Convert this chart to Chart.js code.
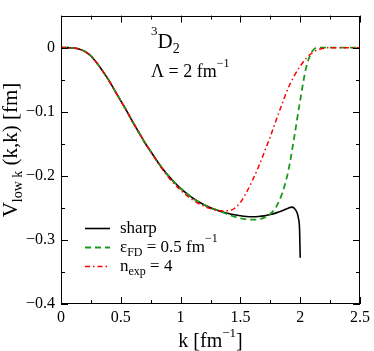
<!DOCTYPE html>
<html>
<head>
<meta charset="utf-8">
<script src="https://cdn.jsdelivr.net/npm/chart.js@4"></script>
<style>
  html, body { margin: 0; padding: 0; background: #fff; }
  #c { display: block; }
</style>
</head>
<body>
<canvas id="c" width="374" height="351"></canvas>
<script>
// k in fm^-1, V_low k(k,k) in fm
var kSharp = [0, 0.05, 0.1, 0.15, 0.2, 0.25, 0.3, 0.35, 0.4, 0.45, 0.5, 0.55, 0.6, 0.65, 0.7, 0.75, 0.8, 0.85, 0.9, 0.95, 1.0,
              1.05, 1.1, 1.15, 1.2, 1.25, 1.3, 1.35, 1.4, 1.45, 1.5, 1.55, 1.6, 1.65, 1.7, 1.75, 1.8, 1.85, 1.9, 1.93, 1.95,
              1.97, 1.985, 1.995, 2.0];
var vSharp = [0, 0, -0.0005, -0.002, -0.006, -0.013, -0.024, -0.037, -0.051, -0.067, -0.083, -0.099, -0.116, -0.132, -0.148,
              -0.162, -0.176, -0.189, -0.2005, -0.2105, -0.2195, -0.2275, -0.2345, -0.2405, -0.2455, -0.2497, -0.2533,
              -0.2563, -0.2588, -0.2608, -0.2623, -0.2634, -0.2638, -0.2635, -0.2625, -0.2605, -0.2578, -0.2545, -0.2505,
              -0.2488, -0.2505, -0.256, -0.266, -0.285, -0.328];

var kFD = [0, 0.05, 0.1, 0.15, 0.2, 0.25, 0.3, 0.35, 0.4, 0.45, 0.5, 0.55, 0.6, 0.65, 0.7, 0.75, 0.8, 0.85, 0.9, 0.95, 1.0,
           1.05, 1.1, 1.15, 1.2, 1.25, 1.3, 1.35, 1.4, 1.45, 1.5, 1.55, 1.6, 1.65, 1.7, 1.75, 1.8, 1.85, 1.9, 1.95,
           2.0, 2.05, 2.1, 2.15, 2.2, 2.3, 2.4, 2.5];
var vFD = [0, 0, -0.0005, -0.002, -0.006, -0.013, -0.024, -0.037, -0.051, -0.067, -0.083, -0.099, -0.116, -0.132, -0.148,
           -0.162, -0.176, -0.189, -0.2005, -0.2105, -0.2195, -0.2275, -0.2345, -0.2405, -0.2455, -0.2497, -0.2533,
           -0.2568, -0.2605, -0.2638, -0.2663, -0.2679, -0.2685, -0.2678, -0.2652, -0.2595, -0.248, -0.227, -0.193,
           -0.140, -0.082, -0.031, -0.006, 0, 0, 0, 0, 0];

var kExp = [0, 0.05, 0.1, 0.15, 0.2, 0.25, 0.3, 0.35, 0.4, 0.45, 0.5, 0.55, 0.6, 0.65, 0.7, 0.75, 0.8, 0.85, 0.9, 0.95, 1.0,
            1.05, 1.1, 1.15, 1.2, 1.25, 1.3, 1.35, 1.4, 1.45, 1.5, 1.55, 1.6, 1.65, 1.7, 1.75, 1.8, 1.85, 1.9, 1.95,
            2.0, 2.05, 2.1, 2.15, 2.2, 2.25, 2.3, 2.4, 2.5];
var vExp = [0, 0, -0.0005, -0.002, -0.006, -0.013, -0.024, -0.037, -0.051, -0.067, -0.083, -0.099, -0.116, -0.132, -0.148,
            -0.162, -0.1765, -0.1905, -0.2025, -0.213, -0.2225, -0.2305, -0.2375, -0.2432, -0.2478, -0.2512, -0.2535,
            -0.2547, -0.2545, -0.251, -0.2415, -0.226, -0.2075, -0.1865, -0.163, -0.139, -0.1125, -0.087, -0.063,
            -0.044, -0.029, -0.0165, -0.008, -0.003, -0.0008, 0, 0, 0, 0];

var xMin = 0, xMax = 2.5, xStep = 0.25;
var yMin = -0.4, yMax = 0.05, yStep = 0.05;

var SERIF = "'Liberation Serif', 'Times New Roman', serif";

function pts(ks, vs) {
	return ks.map(function(k, i) { return { x: k, y: vs[i] }; });
}

function fmt(v) {
	var s = String(Math.round(v * 100) / 100);
	return s.replace('-', '\u2212');
}

// draws a sequence of runs: [text, size, shift] where shift moves baseline up (+) or down (-)
function drawRuns(ctx, runs, x, y, align) {
	var total = 0;
	runs.forEach(function(r) {
		ctx.font = r[1] + 'px ' + SERIF;
		total += ctx.measureText(r[0]).width;
	});
	var cx = align === 'center' ? x - total / 2 : x;
	runs.forEach(function(r) {
		ctx.font = r[1] + 'px ' + SERIF;
		ctx.fillText(r[0], cx, y - (r[2] || 0));
		cx += ctx.measureText(r[0]).width;
	});
}

var framePlugin = {
	id: 'frame',
	afterDraw: function(chart) {
		var ctx = chart.ctx, a = chart.chartArea;
		var xs = chart.scales.x, ys = chart.scales.y;
		ctx.save();
		ctx.strokeStyle = '#000';
		ctx.lineWidth = 1;
		ctx.strokeRect(Math.round(a.left) + 0.5, Math.round(a.top) + 0.5,
			Math.round(a.right - a.left) - 1, Math.round(a.bottom - a.top) - 1);

		// inward ticks on all four sides
		ctx.beginPath();
		xs.ticks.forEach(function(t) {
			var px = Math.round(xs.getPixelForValue(t.value)) + 0.5;
			var major = Math.abs(t.value / 0.5 - Math.round(t.value / 0.5)) < 1e-6;
			var len = major ? 7 : 4;
			ctx.moveTo(px, a.bottom); ctx.lineTo(px, a.bottom - len);
			ctx.moveTo(px, a.top); ctx.lineTo(px, a.top + len);
		});
		ys.ticks.forEach(function(t) {
			var py = Math.round(ys.getPixelForValue(t.value)) + 0.5;
			var major = Math.abs(t.value / 0.1 - Math.round(t.value / 0.1)) < 1e-6;
			var len = major ? 7 : 4;
			ctx.moveTo(a.left, py); ctx.lineTo(a.left + len, py);
			ctx.moveTo(a.right, py); ctx.lineTo(a.right - len, py);
		});
		ctx.stroke();

		ctx.fillStyle = '#000';
		ctx.textBaseline = 'alphabetic';
		ctx.textAlign = 'left';

		// channel and cutoff annotation
		drawRuns(ctx, [['3', 13, 13], ['D', 21, 0], ['2', 14, -5]], 151, 48);
		drawRuns(ctx, [['\u039B = 2 fm', 18, 0], ['\u22121', 12, 10]], 151, 77);

		// legend
		var lx0 = 85, lx1 = 110, tx = 120;
		var rows = [
			{ y: 228, color: '#000', dash: [], w: 1.6,
			  runs: [['sharp', 17, 0]] },
			{ y: 247, color: '#1a9a1a', dash: [6, 4], w: 1.8,
			  runs: [['\u03B5', 17, 0], ['FD', 12, -4], [' = 0.5 fm', 17, 0], ['\u22121', 12, 10]] },
			{ y: 266, color: '#ff0000', dash: [5, 3, 1.5, 3], w: 1.5,
			  runs: [['n', 17, 0], ['exp', 12, -4], [' = 4', 17, 0]] }
		];
		rows.forEach(function(r) {
			ctx.beginPath();
			ctx.setLineDash(r.dash);
			ctx.strokeStyle = r.color;
			ctx.lineWidth = r.w;
			ctx.moveTo(lx0, r.y + 0.5); ctx.lineTo(lx1, r.y + 0.5);
			ctx.stroke();
			ctx.setLineDash([]);
			drawRuns(ctx, r.runs, tx, r.y + 5);
		});

		// axis titles
		drawRuns(ctx, [['k [fm', 20, 0], ['\u22121', 13, 10], [']', 20, 0]], (a.left + a.right) / 2, 347, 'center');

		ctx.save();
		ctx.translate(17, 150);
		ctx.rotate(-Math.PI / 2);
		drawRuns(ctx, [['V', 21, 0], ['low k', 14, -5], [' (k,k) [fm]', 21, 0]], 0, 0, 'center');
		ctx.restore();

		ctx.restore();
	}
};

new Chart(document.getElementById('c'), {
	type: 'line',
	data: {
		datasets: [
			{ label: 'sharp', data: pts(kSharp, vSharp), borderColor: '#000', borderWidth: 1.6,
			  order: 3 },
			{ label: 'FD', data: pts(kFD, vFD), borderColor: '#1a9a1a', borderWidth: 1.8,
			  borderDash: [6, 4], order: 2 },
			{ label: 'exp', data: pts(kExp, vExp), borderColor: '#ff0000', borderWidth: 1.5,
			  borderDash: [5, 3, 1.5, 3], order: 1 }
		]
	},
	options: {
		responsive: false,
		animation: false,
		layout: { padding: { top: 1, right: 11, left: 0, bottom: 0 } },
		elements: {
			point: { radius: 0 },
			line: { cubicInterpolationMode: 'monotone', fill: false }
		},
		plugins: { legend: { display: false }, tooltip: { enabled: false } },
		scales: {
			x: {
				type: 'linear', min: xMin, max: xMax,
				grid: { display: false, drawTicks: false },
				border: { display: false },
				ticks: {
					stepSize: xStep, padding: 4, color: '#000', maxRotation: 0, autoSkip: false,
					font: { family: SERIF, size: 16 },
					callback: function(v) {
						return Math.abs(v / 0.5 - Math.round(v / 0.5)) < 1e-6 ? fmt(v) : '';
					}
				},
				afterFit: function(s) { s.height = 47; }
			},
			y: {
				type: 'linear', min: yMin, max: yMax,
				grid: { display: false, drawTicks: false },
				border: { display: false },
				ticks: {
					stepSize: yStep, padding: 6, color: '#000', autoSkip: false,
					font: { family: SERIF, size: 16 },
					callback: function(v) {
						if (v > 0.001) return '';
						return Math.abs(v / 0.1 - Math.round(v / 0.1)) < 1e-6 ? fmt(v) : '';
					}
				},
				afterFit: function(s) { s.width = 61; }
			}
		}
	},
	plugins: [framePlugin]
});
</script>
</body>
</html>
